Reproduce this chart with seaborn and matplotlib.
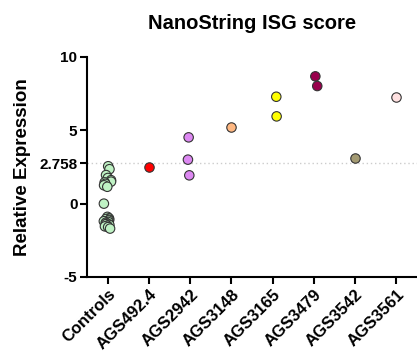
import numpy as np
import pandas as pd
import matplotlib
matplotlib.use("Agg")
import matplotlib.pyplot as plt
import matplotlib.transforms as mtransforms
import seaborn as sns

groups = ["Controls", "AGS492.4", "AGS2942", "AGS3148", "AGS3165",
          "AGS3479", "AGS3542", "AGS3561"]

controls = [2.55, 2.35, 1.95, 1.75, 1.6, 1.5, 1.45, 1.35, 1.25, 1.15, 0.0,
            -0.9, -1.0, -1.05, -1.1, -1.15, -1.2, -1.25, -1.3, -1.35,
            -1.4, -1.45, -1.5, -1.55, -1.6, -1.7]
ags492 = [2.47]
ags2942 = [4.52, 3.0, 1.93]
ags3148 = [5.2]
ags3165 = [7.29, 5.95]
ags3479 = [8.68, 8.02]
ags3542 = [3.11]
ags3561 = [7.27]

palette = ["#bff2c4", "#ff0000", "#dd88f2", "#ffb882", "#ffff00",
           "#99004c", "#a39a72", "#ffe1e1"]
threshold = 2.758

values = [controls, ags492, ags2942, ags3148, ags3165, ags3479, ags3542, ags3561]
df = pd.DataFrame({
    "group": [g for g, v in zip(groups, values) for _ in v],
    "value": [x for v in values for x in v],
})

sns.set_style("ticks")
plt.rcParams["font.family"] = ["Liberation Sans", "DejaVu Sans"]
plt.rcParams["font.weight"] = "bold"
plt.rcParams["text.color"] = "black"
plt.rcParams["axes.labelcolor"] = "black"
plt.rcParams["xtick.color"] = "black"
plt.rcParams["ytick.color"] = "black"

fig = plt.figure(figsize=(4.17, 3.63), dpi=100)
ax = fig.add_axes([0.209, 0.237, 0.791, 0.606])

np.random.seed(3)
sns.stripplot(data=df, x="group", y="value", hue="group", order=groups,
              hue_order=groups, palette=palette, jitter=0.1, size=6.8,
              linewidth=0.8, edgecolor="#333333", legend=False, ax=ax,
              zorder=3)

ax.axhline(threshold, color="#cccccc", lw=1, ls=(0, (1, 2)), zorder=1)

ax.set_xlim(-0.5, 7.5)
ax.set_ylim(-5, 10)
ax.set_yticks([-5, 0, threshold, 5, 10])
ax.set_yticklabels(["-5", "0", "2.758", "5", "10"], fontsize=11,
                   fontweight="bold")
ax.set_xticks(range(len(groups)))
ax.set_xticklabels(groups, rotation=45, ha="right", rotation_mode="anchor",
                   fontsize=12, fontweight="bold")
offset = mtransforms.ScaledTranslation(0.05, -0.05, fig.dpi_scale_trans)
for lab in ax.get_xticklabels():
    lab.set_transform(lab.get_transform() + offset)
ax.set_xlabel("")
ax.set_ylabel("Relative Expression", fontsize=13.5, fontweight="bold",
              labelpad=6)
ax.set_title("NanoString ISG score", fontsize=14.5, fontweight="bold", pad=20)

for side in ["top", "right"]:
    ax.spines[side].set_visible(False)
for side in ["left", "bottom"]:
    ax.spines[side].set_linewidth(1.5)
    ax.spines[side].set_color("black")
ax.tick_params(width=1.5, length=5, color="black", pad=2)

fig.savefig("out.png", dpi=100)
